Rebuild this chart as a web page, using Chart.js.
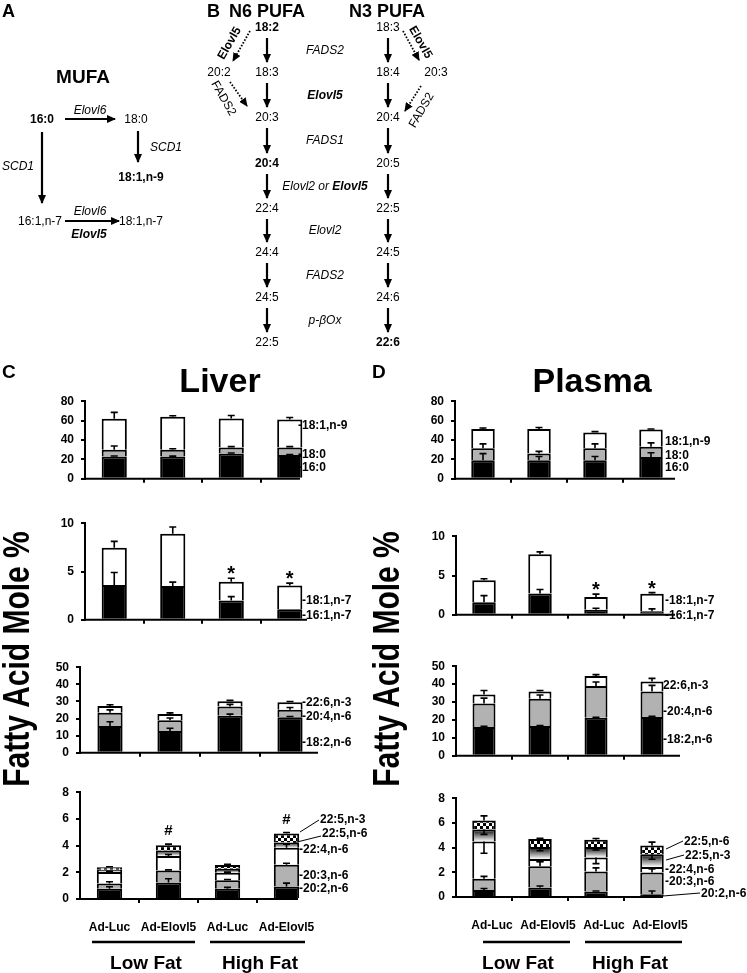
<!DOCTYPE html>
<html>
<head>
<meta charset="utf-8">
<script src="https://cdn.jsdelivr.net/npm/chart.js@4.4.1/dist/chart.umd.min.js"></script>
<style>
  html, body { margin: 0; padding: 0; background: #fff; }
  body { position: relative; width: 747px; height: 973px; overflow: hidden; }
  canvas { position: absolute; }
  #overlay { position: absolute; left: 0; top: 0; }
  text { font-family: Arial, "Liberation Sans", sans-serif; fill: #000; }
</style>
</head>
<body>
<canvas id="liverSat"></canvas>
<canvas id="liverN7"></canvas>
<canvas id="liverPufa"></canvas>
<canvas id="liverMinor"></canvas>
<canvas id="plasmaSat"></canvas>
<canvas id="plasmaN7"></canvas>
<canvas id="plasmaPufa"></canvas>
<canvas id="plasmaMinor"></canvas>
<svg id="overlay" width="747" height="973"></svg>
<script>
// ---- data (fatty acid mole %) ----
const categories = ['Ad-Luc', 'Ad-Elovl5', 'Ad-Luc', 'Ad-Elovl5'];
const dietGroups = ['Low Fat', 'High Fat'];

// liver
const liver16_0 = [23, 23, 26, 24.5];
const liver18_0 = [7, 7, 6.2, 7.7];
const liver18_1n9 = [32, 34, 30, 29];
const liver16_0Err = [0.5, 0.4, 0.6, 0.5];
const liver18_0Err = [3.8, 1, 1, 1];
const liver18_1n9Err = [6.5, 1, 3, 2];

const liver16_1n7 = [3.6, 3.5, 2.0, 1.1];
const liver18_1n7 = [3.85, 5.4, 1.95, 2.45];
const liver16_1n7Err = [1.3, 0.4, 0.4, 0];
const liver18_1n7Err = [0.67, 0.7, 0.35, 0.25];
const liverN7Marks = ['', '', '*', '*'];

const liver18_2n6 = [15.6, 12.8, 21.6, 20.7];
const liver20_4n6 = [7.8, 6.2, 5.4, 4.5];
const liver22_6n3 = [3.9, 3.6, 3.1, 4.3];
const liver18_2n6Err = [2.5, 1.5, 1, 0.5];
const liver20_4n6Err = [1.7, 1.3, 1.3, 1.3];
const liver22_6n3Err = [0.8, 0.7, 0.5, 0.5];

const liver20_2n6 = [0.77, 1.24, 0.77, 0.93];
const liver20_3n6 = [0.4, 0.89, 0.64, 1.63];
const liver22_4n6 = [0.86, 1.1, 0.55, 1.27];
const liver22_5n6 = [0.17, 0.4, 0.3, 0.4];
const liver22_5n3 = [0.17, 0.4, 0.29, 0.67];
const liver20_2n6Err = [0.15, 0.28, 0.1, 0.26];
const liver20_3n6Err = [0.12, 0.05, 0.05, 0.12];
const liver22_4n6Err = [0.05, 0.1, 0.05, 0.28];
const liver22_5n3Err = [0.05, 0.08, 0.05, 0.08];
const liverMinorMarks = ['', '#', '', '#'];

// plasma
const plasma16_0 = [19, 19, 19, 22.5];
const plasma18_0 = [12.4, 7, 12.4, 10.5];
const plasma18_1n9 = [20, 25.4, 16.3, 17.8];
const plasma16_0Err = [7, 4, 4, 4.3];
const plasma18_0Err = [4.6, 2.3, 4.6, 4];
const plasma18_1n9Err = [0.9, 1.5, 0.9, 0.5];

const plasma16_1n7 = [1.6, 2.71, 0.65, 0.46];
const plasma18_1n7 = [2.79, 5.0, 1.6, 2.21];
const plasma16_1n7Err = [0.84, 0.5, 0.19, 0.3];
const plasma18_1n7Err = [0.19, 0.3, 0.38, 0.15];
const plasmaN7Marks = ['', '', '*', '*'];

const plasma18_2n6 = [16.1, 16.6, 21.2, 21.7];
const plasma20_4n6 = [13.1, 15.3, 17.8, 14.2];
const plasma22_6n3 = [5, 4, 5.6, 5.6];
const plasma18_2n6Err = [0.3, 0.3, 0.3, 0.3];
const plasma20_4n6Err = [3, 2, 2.2, 3.4];
const plasma22_6n3Err = [2.2, 0.5, 0.7, 1.7];

const plasma20_2n6 = [0.57, 0.77, 0.44, 0.23];
const plasma20_3n6 = [0.9, 1.73, 1.62, 1.76];
const plasma22_4n6 = [3.02, 0.57, 1.14, 0.44];
const plasma22_5a = [0.98, 0.98, 0.85, 1.03];
const plasma22_5b = [0.72, 0.65, 0.59, 0.72];
const plasma20_2n6Err = [0.12, 0.12, 0.05, 0.25];
const plasma20_3n6Err = [0.2, 0.35, 0.3, 0.35];
const plasma22_4n6Err = [-0.95, -0.2, -0.5, -0.15];
const plasma22_5aErr = [-0.4, -0.3, -0.25, -0.4];
const plasma22_5bErr = [0.38, 0.05, 0.1, 0.26];

// ---- fills ----
const FONT = "'Liberation Sans', Arial, sans-serif";

function checker() {
  const c = document.createElement('canvas');
  c.width = 6; c.height = 6;
  const g = c.getContext('2d');
  g.fillStyle = '#000'; g.fillRect(0, 0, 6, 6);
  g.fillStyle = '#fff'; g.fillRect(0, 0, 3, 3); g.fillRect(3, 3, 3, 3);
  return g.createPattern(c, 'repeat');
}
const checkerFill = checker();

// vertical black -> white shading inside one stacked segment
function shaded(ctx) {
  const chart = ctx.chart;
  const y = chart.scales.y;
  if (ctx.type !== 'data' || !y) return '#777';
  let base = 0;
  for (let k = 0; k < ctx.datasetIndex; k++) base += chart.data.datasets[k].data[ctx.dataIndex];
  const v = chart.data.datasets[ctx.datasetIndex].data[ctx.dataIndex];
  const y0 = y.getPixelForValue(base), y1 = y.getPixelForValue(base + v);
  if (!isFinite(y0) || !isFinite(y1)) return '#777';
  const g = chart.ctx.createLinearGradient(0, y1, 0, y0);
  g.addColorStop(0, '#000');
  g.addColorStop(1, '#fff');
  return g;
}

// ---- plugins ----
const axisLine = {
  id: 'axisLine',
  afterDraw(chart, args, o) {
    const { ctx, chartArea: a } = chart;
    ctx.save();
    ctx.strokeStyle = '#000';
    ctx.lineWidth = 2;
    ctx.beginPath();
    ctx.moveTo(a.left - 1, a.bottom);
    ctx.lineTo(a.left + o.len, a.bottom);
    ctx.stroke();
    ctx.restore();
  }
};

const errorBars = {
  id: 'errorBars',
  afterDatasetsDraw(chart) {
    const { ctx } = chart;
    const y = chart.scales.y;
    ctx.save();
    ctx.strokeStyle = '#000';
    ctx.lineWidth = 1.6;
    chart.data.datasets.forEach((ds, i) => {
      if (!ds.err) return;
      chart.getDatasetMeta(i).data.forEach((bar, j) => {
        const e = ds.err[j];
        if (!e) return;
        const len = y.getPixelForValue(0) - y.getPixelForValue(Math.abs(e));
        const tip = bar.y - Math.sign(e) * len;
        ctx.beginPath();
        ctx.moveTo(bar.x, bar.y);
        ctx.lineTo(bar.x, tip);
        ctx.moveTo(bar.x - 3.5, tip);
        ctx.lineTo(bar.x + 3.5, tip);
        ctx.stroke();
      });
    });
    ctx.restore();
  }
};

const marks = {
  id: 'marks',
  afterDatasetsDraw(chart, args, o) {
    if (!o || !o.text) return;
    const { ctx } = chart;
    const y = chart.scales.y;
    const last = chart.data.datasets.length - 1;
    const ds = chart.data.datasets[last];
    ctx.save();
    ctx.font = o.font;
    ctx.textAlign = 'center';
    ctx.fillStyle = '#000';
    chart.getDatasetMeta(last).data.forEach((bar, j) => {
      if (!o.text[j]) return;
      const e = Math.max(ds.err ? ds.err[j] : 0, 0);
      const tip = bar.y - (y.getPixelForValue(0) - y.getPixelForValue(e));
      ctx.fillText(o.text[j], bar.x, tip + o.dy);
    });
    ctx.restore();
  }
};

// ---- chart builder ----
function stackedBars(id, g, series, markOpts) {
  const xH = g.labels ? 50 : 10;
  const el = document.getElementById(id);
  el.width = 45 + 4 * g.cat + 40;
  el.height = 10 + (g.bottom - g.top) + xH;
  el.style.left = (g.x - 45) + 'px';
  el.style.top = (g.top - 10) + 'px';
  return new Chart(el, {
    type: 'bar',
    data: {
      labels: categories,
      datasets: series.map(s => ({
        data: s.data,
        err: s.err,
        backgroundColor: s.fill,
        borderColor: '#000',
        borderWidth: 2,
        barPercentage: g.bar,
        categoryPercentage: 1
      }))
    },
    options: {
      responsive: false,
      animation: false,
      devicePixelRatio: 1,
      layout: { padding: { left: 0, top: 10, right: 40, bottom: 0 } },
      scales: {
        x: {
          stacked: true,
          offset: true,
          border: { display: false },
          grid: {
            offset: true,
            drawOnChartArea: false,
            tickLength: 4,
            lineWidth: 2,
            color: c => (c.index > 0 && c.index < 4) ? '#000' : 'rgba(0,0,0,0)'
          },
          ticks: {
            display: !!g.labels,
            padding: 17,
            labelOffset: g.shift || 0,
            maxRotation: 0,
            minRotation: 0,
            autoSkip: false,
            color: '#000',
            font: { family: FONT, size: 12, weight: 'bold' }
          },
          afterFit: s => { s.height = xH; }
        },
        y: {
          stacked: true,
          min: 0,
          max: g.max,
          border: { display: true, color: '#000', width: 2 },
          grid: { drawOnChartArea: false, tickLength: 4, color: '#000', lineWidth: 2 },
          ticks: { stepSize: g.step, padding: 7, color: '#000', font: { family: FONT, size: 12, weight: 'bold' } },
          afterFit: s => { s.width = 45; }
        }
      },
      plugins: {
        legend: { display: false },
        tooltip: { enabled: false },
        axisLine: { len: g.line },
        marks: markOpts || false
      }
    },
    plugins: [axisLine, errorBars, marks]
  });
}

const BLACK = '#000', GRAY = '#b2b2b2', WHITE = '#fff';
const star = t => ({ text: t, font: 'bold 20px ' + FONT, dy: 2 });
const hash = t => ({ text: t, font: 'bold 15px ' + FONT, dy: -9 });

stackedBars('liverSat', { x: 85, top: 397, bottom: 483, cat: 58.5, bar: 0.43, max: 80, step: 20, line: 215 }, [
  { data: liver16_0, err: liver16_0Err, fill: BLACK },
  { data: liver18_0, err: liver18_0Err, fill: GRAY },
  { data: liver18_1n9, err: liver18_1n9Err, fill: WHITE }
]);
stackedBars('liverN7', { x: 85, top: 519, bottom: 624, cat: 58.5, bar: 0.43, max: 10, step: 5, line: 222 }, [
  { data: liver16_1n7, err: liver16_1n7Err, fill: BLACK },
  { data: liver18_1n7, err: liver18_1n7Err, fill: WHITE }
], star(liverN7Marks));
stackedBars('liverPufa', { x: 80, top: 662.5, bottom: 756.5, cat: 60, bar: 0.42, max: 50, step: 10, line: 238 }, [
  { data: liver18_2n6, err: liver18_2n6Err, fill: BLACK },
  { data: liver20_4n6, err: liver20_4n6Err, fill: GRAY },
  { data: liver22_6n3, err: liver22_6n3Err, fill: WHITE }
]);
stackedBars('liverMinor', { x: 80, top: 788, bottom: 899, cat: 59, bar: 0.43, max: 8, step: 2, line: 218, labels: true }, [
  { data: liver20_2n6, err: liver20_2n6Err, fill: BLACK },
  { data: liver20_3n6, err: liver20_3n6Err, fill: GRAY },
  { data: liver22_4n6, err: liver22_4n6Err, fill: WHITE },
  { data: liver22_5n6, fill: shaded },
  { data: liver22_5n3, err: liver22_5n3Err, fill: checkerFill }
], hash(liverMinorMarks));

stackedBars('plasmaSat', { x: 455, top: 397, bottom: 483, cat: 56, bar: 0.42, max: 80, step: 20, line: 220 }, [
  { data: plasma16_0, err: plasma16_0Err, fill: BLACK },
  { data: plasma18_0, err: plasma18_0Err, fill: GRAY },
  { data: plasma18_1n9, err: plasma18_1n9Err, fill: WHITE }
]);
stackedBars('plasmaN7', { x: 456, top: 531.7, bottom: 619, cat: 56, bar: 0.42, max: 10, step: 5, line: 219 }, [
  { data: plasma16_1n7, err: plasma16_1n7Err, fill: BLACK },
  { data: plasma18_1n7, err: plasma18_1n7Err, fill: WHITE }
], star(plasmaN7Marks));
stackedBars('plasmaPufa', { x: 456, top: 661.7, bottom: 760, cat: 56, bar: 0.41, max: 50, step: 10, line: 224 }, [
  { data: plasma18_2n6, err: plasma18_2n6Err, fill: BLACK },
  { data: plasma20_4n6, err: plasma20_4n6Err, fill: GRAY },
  { data: plasma22_6n3, err: plasma22_6n3Err, fill: WHITE }
]);
stackedBars('plasmaMinor', { x: 456, top: 794, bottom: 897, cat: 56, bar: 0.42, max: 8, step: 2, line: 207, labels: true, shift: 8 }, [
  { data: plasma20_2n6, err: plasma20_2n6Err, fill: BLACK },
  { data: plasma20_3n6, err: plasma20_3n6Err, fill: GRAY },
  { data: plasma22_4n6, err: plasma22_4n6Err, fill: WHITE },
  { data: plasma22_5a, err: plasma22_5aErr, fill: shaded },
  { data: plasma22_5b, err: plasma22_5bErr, fill: checkerFill }
]);

// ---- text, pathway diagrams, labels ----
const svg = document.getElementById('overlay');
let out = `<defs><marker id="ah" markerWidth="9" markerHeight="8" refX="8" refY="4" orient="auto" markerUnits="userSpaceOnUse"><path d="M0,0 L9,4 L0,8 z" fill="#000"/></marker></defs>`;
function txt(s, x, y, o = {}) {
  const size = o.size || 12;
  const anchor = o.anchor || 'middle';
  const w = o.bold ? 'bold' : 'normal';
  const st = o.italic ? 'italic' : 'normal';
  const tr = o.tr ? ` transform="${o.tr}"` : '';
  out += `<text x="${x}" y="${y}" font-size="${size}" font-weight="${w}" font-style="${st}" text-anchor="${anchor}"${tr}>${s}</text>`;
}
function arrow(x1, y1, x2, y2, dotted) {
  out += `<line x1="${x1}" y1="${y1}" x2="${x2}" y2="${y2}" stroke="#000" stroke-width="${dotted ? 1.8 : 2.2}"${dotted ? ' stroke-dasharray="1.6 1.6"' : ''} marker-end="url(#ah)"/>`;
}
function line(x1, y1, x2, y2, w) {
  out += `<line x1="${x1}" y1="${y1}" x2="${x2}" y2="${y2}" stroke="#000" stroke-width="${w || 1}"/>`;
}

// panel A
txt('A', 2, 17, { size: 18, bold: true, anchor: 'start' });
txt('MUFA', 83, 83, { size: 19, bold: true });
txt('16:0', 42, 123, { bold: true });
arrow(65, 119, 115, 119);
txt('Elovl6', 90, 114, { italic: true });
txt('18:0', 136, 123);
arrow(138, 131, 138, 162);
txt('SCD1', 150, 151, { italic: true, anchor: 'start' });
txt('18:1,n-9', 141, 181, { bold: true });
arrow(42, 132, 42, 203);
txt('SCD1', 2, 170, { italic: true, anchor: 'start' });
txt('16:1,n-7', 40, 225);
arrow(65, 221, 119, 221);
txt('Elovl6', 90, 215, { italic: true });
txt('<tspan font-weight="bold">Elovl5</tspan>', 89, 238, { italic: true });
txt('18:1,n-7', 141, 225);

// panel B
txt('B', 207, 17, { size: 18, bold: true, anchor: 'start' });
txt('N6 PUFA', 229, 17, { size: 18, bold: true, anchor: 'start' });
txt('N3 PUFA', 349, 17, { size: 18, bold: true, anchor: 'start' });
const rowY = [27, 72, 117, 163, 208, 252, 297, 342];
const n6 = ['18:2', '18:3', '20:3', '20:4', '22:4', '24:4', '24:5', '22:5'];
const n3 = ['18:3', '18:4', '20:4', '20:5', '22:5', '24:5', '24:6', '22:6'];
const enzymes = ['FADS2', '<tspan font-weight="bold">Elovl5</tspan>', 'FADS1',
  'Elovl2 or <tspan font-weight="bold">Elovl5</tspan>', 'Elovl2', 'FADS2', 'p-βOx'];
rowY.forEach((y, i) => {
  txt(n6[i], 267, y + 4, { bold: i === 0 || i === 3 });
  txt(n3[i], 388, y + 4, { bold: i === 7 });
  if (i < rowY.length - 1) {
    arrow(267, y + 11, 267, rowY[i + 1] - 10);
    arrow(388, y + 11, 388, rowY[i + 1] - 10);
    txt(enzymes[i], 325, (y + rowY[i + 1]) / 2 + 4, { italic: true });
  }
});
txt('20:2', 219, 76);
arrow(250, 31, 233, 61, true);
txt('Elovl5', 0, 4, { bold: true, tr: 'translate(229,43) rotate(-60)' });
arrow(230, 82, 247, 106, true);
txt('FADS2', 0, 4, { tr: 'translate(224,98) rotate(60)' });
txt('20:3', 436, 76);
arrow(403, 31, 419, 60, true);
txt('Elovl5', 0, 4, { bold: true, tr: 'translate(421,42) rotate(60)' });
arrow(421, 86, 405, 111, true);
txt('FADS2', 0, 4, { tr: 'translate(421,110) rotate(-60)' });

// panel titles
txt('C', 2, 378, { size: 19, bold: true, anchor: 'start' });
txt('D', 372, 378, { size: 19, bold: true, anchor: 'start' });
txt('Liver', 220, 392, { size: 34, bold: true });
txt('Plasma', 592, 392, { size: 34, bold: true });
txt('Fatty Acid Mole %', 0, 0, { size: 30, bold: true, tr: 'translate(29,659) rotate(-90) scale(1,1.25)' });
txt('Fatty Acid Mole %', 0, 0, { size: 30, bold: true, tr: 'translate(399,659) rotate(-90) scale(1,1.25)' });

// series labels
const L = (s, x, y) => txt(s, x, y + 4, { size: 12, bold: true, anchor: 'start' });
L('-18:1,n-9', 298, 425); L('-18:0', 298, 454); L('-16:0', 298, 467);
L('-18:1,n-7', 302, 600); L('-16:1,n-7', 302, 615);
L('-22:6,n-3', 302, 702); L('-20:4,n-6', 302, 716); L('-18:2,n-6', 302, 742);
L('22:5,n-3', 320, 819); line(300, 832, 319, 820);
L('22:5,n-6', 322, 833); line(293, 843, 321, 836);
L('-22:4,n-6', 299, 849); L('-20:3,n-6', 299, 875); L('-20:2,n-6', 299, 888);
L('18:1,n-9', 665, 441); L('18:0', 665, 455); L('16:0', 665, 467);
L('-18:1,n-7', 665, 600); L('-16:1,n-7', 665, 615);
L('22:6,n-3', 663, 685); L('-20:4,n-6', 663, 711); L('-18:2,n-6', 663, 739);
L('22:5,n-6', 684, 841); line(666, 849, 683, 841);
L('22:5,n-3', 685, 855); line(666, 860, 684, 855);
L('-22:4,n-6', 665, 869); L('-20:3,n-6', 665, 881);
L('20:2,n-6', 701, 893); line(663, 896, 700, 893);

// diet groups
line(92, 942, 195, 942, 2.5); line(210, 942, 305, 942, 2.5);
txt(dietGroups[0], 146, 969, { size: 19, bold: true });
txt(dietGroups[1], 260, 969, { size: 19, bold: true });
line(483, 942, 570, 942, 2.5); line(585, 942, 682, 942, 2.5);
txt(dietGroups[0], 518, 969, { size: 19, bold: true });
txt(dietGroups[1], 630, 969, { size: 19, bold: true });

svg.innerHTML = out;
</script>
</body>
</html>
